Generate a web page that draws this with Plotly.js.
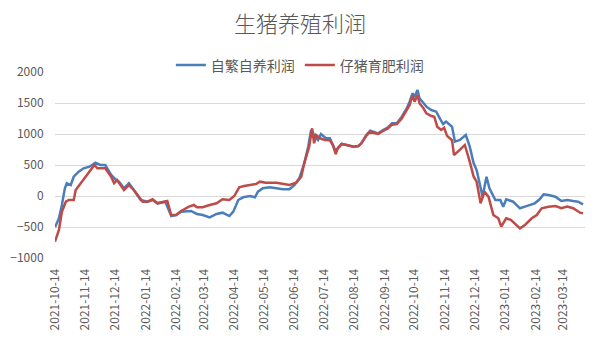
<!DOCTYPE html>
<html>
<head>
<meta charset="utf-8">
<script src="https://cdn.plot.ly/plotly-3.0.1.min.js"></script>
<style>html,body{margin:0;padding:0;background:#fff;}#chart{width:600px;height:351px;}</style>
</head>
<body>
<div id="chart"></div>
<script>
// 自繁自养利润 (blue)
var datesA = ['2021-10-14','2021-10-18','2021-10-21','2021-10-24','2021-10-26','2021-10-30','2021-11-02','2021-11-07','2021-11-12','2021-11-18','2021-11-24','2021-11-29','2021-12-04','2021-12-10','2021-12-15','2021-12-18','2021-12-23','2021-12-28','2022-01-02','2022-01-09','2022-01-16','2022-01-21','2022-01-26','2022-02-03','2022-02-09','2022-02-14','2022-02-19','2022-03-01','2022-03-07','2022-03-13','2022-03-20','2022-03-27','2022-04-02','2022-04-09','2022-04-13','2022-04-18','2022-04-23','2022-04-30','2022-05-05','2022-05-08','2022-05-13','2022-05-20','2022-05-27','2022-06-02','2022-06-09','2022-06-14','2022-06-19','2022-06-24','2022-06-28','2022-07-01','2022-07-05','2022-07-08','2022-07-11','2022-07-16','2022-07-20','2022-07-23','2022-07-26','2022-07-28','2022-08-01','2022-08-06','2022-08-13','2022-08-18','2022-08-21','2022-08-26','2022-08-30','2022-09-02','2022-09-07','2022-09-12','2022-09-17','2022-09-21','2022-09-26','2022-10-01','2022-10-06','2022-10-09','2022-10-12','2022-10-14','2022-10-17','2022-10-19','2022-10-23','2022-10-26','2022-10-31','2022-11-05','2022-11-09','2022-11-12','2022-11-15','2022-11-21','2022-11-24','2022-11-29','2022-12-05','2022-12-09','2022-12-13','2022-12-16','2022-12-19','2022-12-22','2022-12-26','2022-12-29','2023-01-04','2023-01-09','2023-01-12','2023-01-15','2023-01-22','2023-01-29','2023-02-03','2023-02-08','2023-02-13','2023-02-18','2023-02-22','2023-02-27','2023-03-06','2023-03-12','2023-03-18','2023-03-24','2023-03-29','2023-04-03'];
var valuesA = [-505,-360,-145,125,205,177,311,392,447,473,537,500,500,339,258,231,124,205,97,-65,-92,-65,-118,-92,-323,-306,-253,-242,-290,-306,-344,-290,-269,-323,-253,-65,-21,0,-21,69,124,140,124,108,108,177,285,527,795,1065,957,903,1000,931,931,823,720,769,839,823,795,806,850,984,1053,1037,1011,1065,1108,1173,1173,1279,1415,1521,1657,1602,1710,1576,1495,1441,1387,1360,1240,1160,1200,1118,876,903,984,795,527,419,205,-11,311,124,-65,-65,-172,-53,-92,-198,-172,-145,-118,-53,27,16,-11,-81,-65,-81,-92,-134];

// 仔猪育肥利润 (red)
var datesB = ['2021-10-14','2021-10-18','2021-10-21','2021-10-25','2021-10-28','2021-11-02','2021-11-04','2021-11-09','2021-11-16','2021-11-23','2021-11-26','2021-12-04','2021-12-10','2021-12-13','2021-12-16','2021-12-23','2021-12-28','2022-01-02','2022-01-11','2022-01-16','2022-01-21','2022-01-26','2022-02-05','2022-02-09','2022-02-14','2022-02-19','2022-02-27','2022-03-04','2022-03-07','2022-03-13','2022-03-20','2022-03-27','2022-04-02','2022-04-09','2022-04-14','2022-04-19','2022-04-24','2022-04-30','2022-05-06','2022-05-10','2022-05-16','2022-05-27','2022-06-02','2022-06-09','2022-06-16','2022-06-21','2022-06-24','2022-06-28','2022-06-29','2022-07-02','2022-07-04','2022-07-06','2022-07-10','2022-07-15','2022-07-20','2022-07-23','2022-07-26','2022-07-28','2022-08-01','2022-08-06','2022-08-13','2022-08-18','2022-08-21','2022-08-26','2022-08-30','2022-09-02','2022-09-07','2022-09-12','2022-09-17','2022-09-21','2022-09-26','2022-10-01','2022-10-06','2022-10-09','2022-10-12','2022-10-14','2022-10-17','2022-10-19','2022-10-23','2022-10-26','2022-10-31','2022-11-03','2022-11-06','2022-11-10','2022-11-13','2022-11-16','2022-11-21','2022-11-23','2022-11-27','2022-12-04','2022-12-09','2022-12-13','2022-12-16','2022-12-20','2022-12-24','2022-12-28','2023-01-02','2023-01-07','2023-01-10','2023-01-15','2023-01-20','2023-01-29','2023-02-03','2023-02-10','2023-02-15','2023-02-20','2023-02-27','2023-03-06','2023-03-12','2023-03-18','2023-03-24','2023-03-31','2023-04-03'];
var valuesB = [-737,-548,-253,-92,-65,-65,97,205,339,500,447,447,311,205,258,97,177,97,-92,-92,-53,-118,-81,-306,-306,-242,-172,-145,-182,-182,-145,-118,-53,-65,0,140,161,177,194,231,215,215,194,177,215,311,527,769,795,1092,850,984,931,903,900,823,677,769,839,823,795,806,850,970,1040,1020,1000,1050,1090,1150,1160,1250,1390,1468,1629,1521,1629,1495,1415,1334,1290,1279,1118,1065,1100,970,900,661,715,823,553,311,231,-118,69,-11,-306,-360,-495,-360,-387,-521,-468,-360,-306,-198,-172,-161,-198,-172,-198,-269,-279];

var tickDates = ['2021-10-14','2021-11-14','2021-12-14','2022-01-14','2022-02-14','2022-03-14','2022-04-14','2022-05-14','2022-06-14','2022-07-14','2022-08-14','2022-09-14','2022-10-14','2022-11-14','2022-12-14','2023-01-14','2023-02-14','2023-03-14'];
var tickLabels = tickDates.slice();

var nameA = '自繁自养利润';
var nameB = '仔猪育肥利润';
var titleText = '生猪养殖利润';

var font = '"Noto Sans CJK SC", "Liberation Sans", sans-serif';
var traces = [
  {x: datesA, y: valuesA, name: nameA, type: 'scatter', mode: 'lines',
   line: {color: '#4a7ebb', width: 2.5}},
  {x: datesB, y: valuesB, name: nameB, type: 'scatter', mode: 'lines',
   line: {color: '#be4b48', width: 2.5}}
];
var layout = {
  width: 600, height: 351,
  margin: {l: 55, r: 15, t: 72, b: 93},
  paper_bgcolor: '#fff', plot_bgcolor: '#fff',
  font: {family: font, color: '#595959', size: 12},
  title: {text: titleText, font: {family: font, size: 22, color: '#595959', weight: 300},
          x: 0.5, xanchor: 'center', y: 0.93, yanchor: 'middle'},
  showlegend: true,
  legend: {orientation: 'h', x: 0.462, xanchor: 'center', y: 1.035, yanchor: 'middle',
           font: {family: font, size: 14, color: '#595959'}, bgcolor: 'rgba(0,0,0,0)',
           itemwidth: 30, tracegroupgap: 0},
  xaxis: {type: 'date', range: ['2021-10-14', '2023-04-05'],
          tickmode: 'array', tickvals: tickDates, ticktext: tickLabels,
          tickangle: -90, showgrid: false, zeroline: false, showline: false,
          ticks: 'outside', ticklen: 5, tickcolor: 'rgba(0,0,0,0)',
          tickfont: {family: font, size: 12, color: '#595959'}},
  yaxis: {range: [-1000, 2000], tickvals: [-1000,-500,0,500,1000,1500,2000],
          showgrid: true, gridcolor: '#d9d9d9', gridwidth: 1,
          zeroline: false, showline: false,
          ticks: 'outside', ticklen: 8, tickcolor: 'rgba(0,0,0,0)',
          tickfont: {family: font, size: 12, color: '#595959'}}
};
Plotly.newPlot('chart', traces, layout, {displayModeBar: false, staticPlot: true});
</script>
</body>
</html>
